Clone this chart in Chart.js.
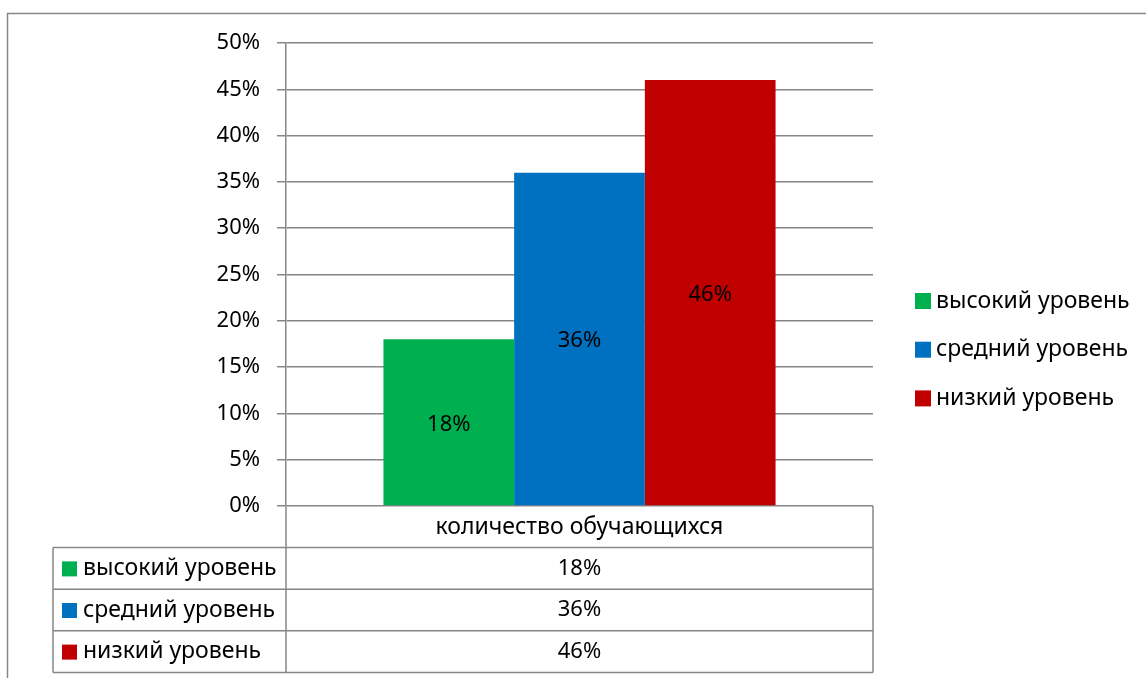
<!DOCTYPE html>
<html><head><meta charset="utf-8">
<script src="https://cdn.jsdelivr.net/npm/chart.js@4"></script>
<style>html,body{margin:0;padding:0;background:#fff;overflow:hidden}</style>
</head><body>
<canvas id="c" width="1146" height="678" style="display:block;width:1146px;height:678px"></canvas>
<script>
const categories = ['количество обучающихся'];
const seriesNames = ['высокий уровень', 'средний уровень', 'низкий уровень'];
const highValues = [0.18];
const midValues = [0.36];
const lowValues = [0.46];
const seriesColors = ['#00B050', '#0070C0', '#C00000'];
const yMin = 0, yMax = 0.5, yStep = 0.05;

const FONT = '"Noto Sans", "Open Sans", sans-serif';
const FS_NUM = 22;
const FS_TXT = 23;
const LINE = '#868686';
const pct = v => Math.round(v * 100) + '%';

const decor = {
  id: 'decor',
  beforeDraw(chart) {
    const ctx = chart.ctx;
    ctx.save();
    ctx.fillStyle = '#fff';
    ctx.fillRect(0, 0, chart.width, chart.height);
    ctx.strokeStyle = LINE; ctx.lineWidth = 1.5;
    ctx.beginPath();
    ctx.moveTo(7.5, chart.height); ctx.lineTo(7.5, 13.5); ctx.lineTo(chart.width, 13.5);
    ctx.stroke();
    ctx.restore();
  },
  afterDraw(chart) {
    const ctx = chart.ctx;
    const ca = chart.chartArea;
    const numFont = FS_NUM + 'px ' + FONT;
    const txtFont = FS_TXT + 'px ' + FONT;
    ctx.save();
    ctx.fillStyle = '#000';
    ctx.textAlign = 'center'; ctx.textBaseline = 'middle';
    // data labels in bar centres
    ctx.font = numFont;
    chart.data.datasets.forEach((ds, i) => {
      chart.getDatasetMeta(i).data.forEach((bar, j) => {
        const p = bar.getProps(['x', 'y', 'base'], true);
        ctx.fillText(pct(ds.data[j]), p.x, (p.y + p.base) / 2 + 2);
      });
    });
    // data table
    const rowH = 41.6;
    const tL = 53, cL = ca.left, cR = ca.right, top = ca.bottom;
    const n = chart.data.datasets.length;
    ctx.strokeStyle = LINE; ctx.lineWidth = 1.5;
    ctx.beginPath();
    ctx.moveTo(cL, top); ctx.lineTo(cL, top + rowH * (n + 1));
    ctx.moveTo(cR, top); ctx.lineTo(cR, top + rowH * (n + 1));
    ctx.moveTo(tL, top + rowH); ctx.lineTo(tL, top + rowH * (n + 1));
    for (let r = 1; r <= n + 1; r++) {
      ctx.moveTo(tL, top + rowH * r); ctx.lineTo(cR, top + rowH * r);
    }
    ctx.stroke();
    const cx = (cL + cR) / 2;
    ctx.font = txtFont;
    ctx.fillText(chart.data.labels[0], cx, top + rowH / 2 + 1);
    chart.data.datasets.forEach((ds, i) => {
      const yc = top + rowH * (i + 1.5);
      ctx.fillStyle = ds.backgroundColor;
      ctx.fillRect(62, yc - 7, 15, 15);
      ctx.fillStyle = '#000';
      ctx.textAlign = 'left';
      ctx.font = txtFont;
      ctx.fillText(ds.label, 83, yc);
      ctx.textAlign = 'center';
      ctx.font = numFont;
      ctx.fillText(pct(ds.data[0]), cx, yc);
    });
    // legend right
    ctx.font = txtFont;
    chart.data.datasets.forEach((ds, i) => {
      const yc = 301 + i * 48.7;
      ctx.fillStyle = ds.backgroundColor;
      ctx.fillRect(915, yc - 8, 16, 16);
      ctx.fillStyle = '#000';
      ctx.textAlign = 'left';
      ctx.fillText(ds.label, 936, yc);
    });
    ctx.restore();
  }
};

new Chart(document.getElementById('c'), {
  type: 'bar',
  data: {
    labels: categories,
    datasets: [
      { label: seriesNames[0], data: highValues, backgroundColor: seriesColors[0] },
      { label: seriesNames[1], data: midValues, backgroundColor: seriesColors[1] },
      { label: seriesNames[2], data: lowValues, backgroundColor: seriesColors[2] }
    ]
  },
  options: {
    responsive: false,
    animation: false,
    devicePixelRatio: 1,
    layout: { padding: { left: 0, right: 273, top: 43, bottom: 172 } },
    datasets: { bar: { categoryPercentage: 0.668, barPercentage: 1 } },
    plugins: { legend: { display: false }, tooltip: { enabled: false } },
    scales: {
      x: { display: false },
      y: {
        min: yMin, max: yMax,
        ticks: { stepSize: yStep, callback: v => pct(v), color: '#000', font: { family: FONT, size: FS_NUM }, padding: 17 },
        grid: { color: LINE, lineWidth: 1.5, tickLength: 9, drawTicks: true },
        border: { color: LINE, width: 1.5 },
        afterFit(s) { s.width = 286; }
      }
    }
  },
  plugins: [decor]
});
</script>
</body></html>
